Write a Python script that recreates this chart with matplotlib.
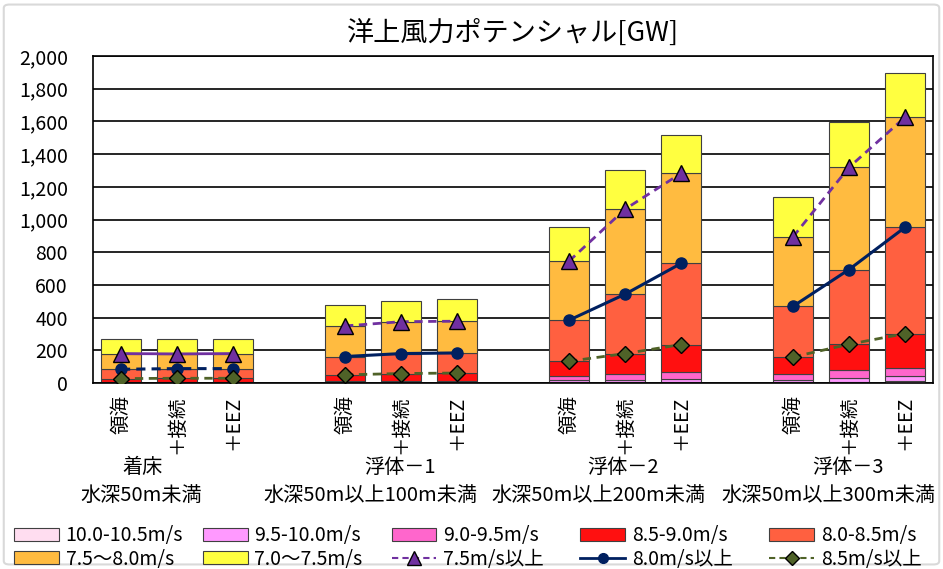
import numpy as np
import matplotlib
matplotlib.use('Agg')
import matplotlib.pyplot as plt
from matplotlib.patches import FancyBboxPatch, Patch
from matplotlib.lines import Line2D
from matplotlib.ticker import FuncFormatter, MultipleLocator

plt.rcParams['font.family'] = ['Noto Sans CJK JP', 'DejaVu Sans']

# categories
sites = ['領海', '＋接続', '＋EEZ']
groups = ['着床', '浮体－1', '浮体－2', '浮体－3']
depths = ['水深50m未満', '水深50m以上100m未満', '水深50m以上200m未満', '水深50m以上300m未満']

# potential per wind-speed band [GW], 3 sites x 4 groups
ws_100_105 = [1, 1, 1, 1, 1, 1, 8, 5, 5, 6, 8, 12]
ws_95_100 = [2, 2, 2, 3, 3, 3, 12, 15, 17, 14, 21, 31]
ws_90_95 = [4, 4, 4, 8, 9, 9, 20, 37, 45, 33, 53, 51]
ws_85_90 = [20, 22, 22, 38, 45, 48, 93, 123, 168, 106, 155, 208]
ws_80_85 = [57, 59, 59, 112, 122, 123, 251, 363, 496, 310, 457, 650]
ws_75_80 = [96, 90, 92, 187, 195, 194, 361, 520, 551, 425, 625, 673]
ws_70_75 = [87, 94, 92, 127, 129, 133, 210, 239, 234, 241, 279, 269]

band_labels = ['10.0-10.5m/s', '9.5-10.0m/s', '9.0-9.5m/s', '8.5-9.0m/s',
               '8.0-8.5m/s', '7.5～8.0m/s', '7.0～7.5m/s']
line_labels = ['7.5m/s以上', '8.0m/s以上', '8.5m/s以上']

bands = np.array([ws_100_105, ws_95_100, ws_90_95, ws_85_90,
                  ws_80_85, ws_75_80, ws_70_75], dtype=float)
band_colors = ['#FFDDF0', '#FF99FF', '#FF66CC', '#FF1010',
               '#FF6040', '#FFBB40', '#FFFF40']

# cumulative totals above each threshold
cum = np.cumsum(bands, axis=0)
over_75 = cum[5]
over_80 = cum[4]
over_85 = cum[3]

fig = plt.figure(figsize=(9.43, 5.69), dpi=100)
ax = fig.add_axes([93 / 943, 1 - 383 / 569, 840 / 943, 327 / 569])

pos = np.array([g * 4 + b for g in range(len(groups)) for b in range(len(sites))])

edge = '#404040'
bottom = np.zeros(len(pos))
for vals, col in zip(bands, band_colors):
    ax.bar(pos, vals, width=0.714, bottom=bottom, color=col,
           edgecolor=edge, linewidth=0.8, zorder=2)
    bottom += vals

purple, navy, olive = '#7030A0', '#002060', '#4F6228'
dash = {'ls': '--', 'dashes': (3, 2)}
solid = {'ls': '-'}
for g in range(len(groups)):
    sl = slice(g * 3, g * 3 + 3)
    xs = pos[sl]
    # first group was drawn with the purple/navy styles swapped
    st75, st80 = (solid, dash) if g == 0 else (dash, solid)
    ax.plot(xs, over_75[sl], color=purple, lw=2, marker='^', ms=11,
            mfc=purple, mec='black', mew=1, zorder=4, **st75)
    ax.plot(xs, over_80[sl], color=navy, lw=2.2, marker='o', ms=8,
            mfc=navy, mec=navy, zorder=4, **st80)
    ax.plot(xs, over_85[sl], color=olive, lw=2, marker='D', ms=8,
            mfc=olive, mec='black', mew=1, zorder=4, **dash)

ax.set_xlim(-0.5, 14.5)
ax.set_ylim(0, 2000)
ax.yaxis.set_major_locator(MultipleLocator(200))
ax.yaxis.set_major_formatter(FuncFormatter(lambda v, p: f'{int(v):,}'))
ax.yaxis.grid(True, color='black', lw=1.2)
ax.set_axisbelow(True)
for sp in ax.spines.values():
    sp.set_color('black')
    sp.set_linewidth(1.2)

ax.set_xticks(pos)
ax.set_xticklabels(sites * len(groups), rotation=90)
ax.tick_params(axis='x', length=0, pad=9, labelsize=14)
ax.tick_params(axis='y', length=0, pad=18, labelsize=14)

ax.set_title('洋上風力ポテンシャル[GW]', fontsize=19.5, pad=11)

# two-line group captions under the site labels
name_x = [0.39, 4.98, 8.96, 12.98]
depth_x = [0.36, 4.45, 8.52, 12.64]
tr = ax.get_xaxis_transform()
for g in range(len(groups)):
    ax.text(name_x[g], -0.257, groups[g], transform=tr, ha='center', va='center', fontsize=14.5)
    ax.text(depth_x[g], -0.343, depths[g], transform=tr, ha='center', va='center', fontsize=14.5)

# legend, two rows of five
handles = [Patch(facecolor=c, edgecolor=edge, linewidth=0.8) for c in band_colors]
handles += [
    Line2D([], [], color=purple, lw=1.5, marker='^', ms=10, mfc=purple, mec='black', **dash),
    Line2D([], [], color=navy, lw=2, marker='o', ms=7, mfc=navy, mec=navy, **solid),
    Line2D([], [], color=olive, lw=1.5, marker='D', ms=7, mfc=olive, mec='black', **dash),
]
labels = band_labels + line_labels
for i, (h, lab) in enumerate(zip(handles, labels)):
    c, r = i % 5, i // 5
    x0 = (14 + 188.8 * c) / 943
    y0 = 1 - (536 + 23 * r) / 569
    fig.legend([h], [lab], loc='center left', bbox_to_anchor=(x0, y0), frameon=False,
               fontsize=14, handlelength=2.3, handleheight=0.6, handletextpad=0.35,
               borderpad=0, borderaxespad=0)

fig.patches.append(FancyBboxPatch((0.004, 0.008), 0.992, 0.984, boxstyle='round,pad=0,rounding_size=0.006',
                                  transform=fig.transFigure, facecolor='none',
                                  edgecolor='#D9D9D9', linewidth=1.5))

fig.savefig('out.png', dpi=100)
